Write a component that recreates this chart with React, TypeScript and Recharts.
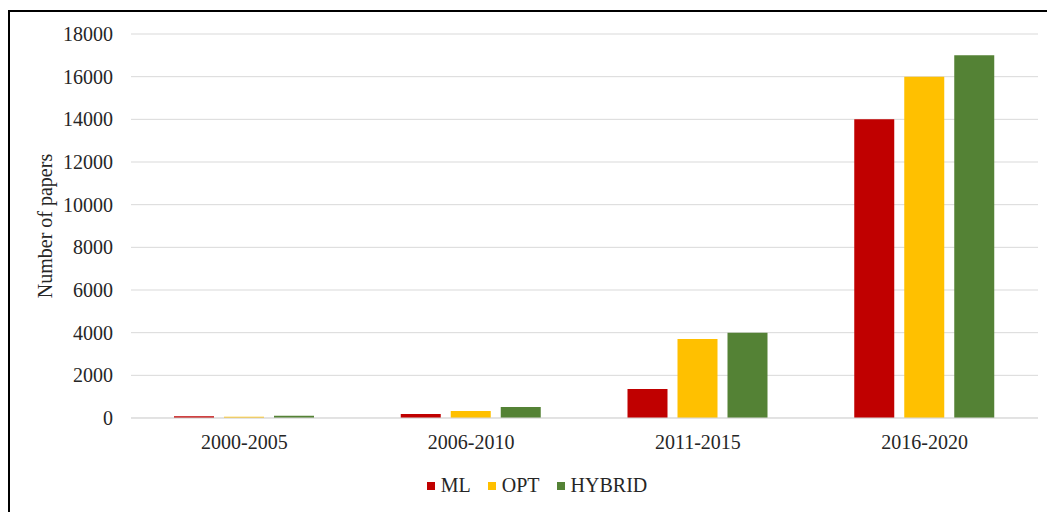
import { BarChart, Bar, XAxis, YAxis, CartesianGrid, Legend } from 'recharts';

const periods = ['2000-2005', '2006-2010', '2011-2015', '2016-2020'];
const mlPapers = [80, 190, 1360, 14000];
const optPapers = [60, 330, 3700, 16000];
const hybridPapers = [100, 520, 4000, 17000];
const yTicks = [0, 2000, 4000, 6000, 8000, 10000, 12000, 14000, 16000, 18000];

const series = [
  { key: 'ML', color: '#C00000' },
  { key: 'OPT', color: '#FFC000' },
  { key: 'HYBRID', color: '#548235' },
];

const data = periods.map((period, i) => ({
  period,
  ML: mlPapers[i],
  OPT: optPapers[i],
  HYBRID: hybridPapers[i],
}));

const font = '"Liberation Serif", "Times New Roman", serif';
const textColor = '#262626';

function LegendBox() {
  return (
    <div style={{ display: 'flex', justifyContent: 'center', alignItems: 'center', paddingLeft: 17, fontFamily: font, fontSize: 20, lineHeight: '23px', color: textColor }}>
      {series.map((s, i) => (
        <span key={s.key} style={{ display: 'flex', alignItems: 'center', marginLeft: i === 0 ? 0 : 17 }}>
          <span style={{ width: 8, height: 8, background: s.color, marginRight: 6, display: 'inline-block' }} />
          {s.key}
        </span>
      ))}
    </div>
  );
}

export default function App() {
  return (
    <div
      style={{
        position: 'fixed',
        left: 8,
        top: 10,
        width: 1039,
        height: 502,
        borderTop: '2px solid #000',
        borderLeft: '2px solid #000',
        background: '#fff',
      }}
    >
      <BarChart
        width={1037}
        height={500}
        data={data}
        margin={{ top: 22, right: 9, left: 0, bottom: 17 }}
        barCategoryGap="19%"
        barGap={10}
      >
        <CartesianGrid vertical={false} stroke="#d9d9d9" />
        <XAxis
          dataKey="period"
          axisLine={{ stroke: '#d9d9d9' }}
          tickLine={false}
          tickMargin={11}
          height={54}
          tick={{ fill: textColor, fontSize: 20, fontFamily: font }}
        />
        <YAxis
          width={121}
          domain={[0, 18000]}
          ticks={yTicks}
          axisLine={false}
          tickLine={false}
          tickMargin={12}
          tick={{ fill: textColor, fontSize: 20, fontFamily: font }}
          label={{
            value: 'Number of papers',
            angle: -90,
            position: 'insideLeft',
            dx: 30,
            style: { textAnchor: 'middle', fill: textColor, fontSize: 20, fontFamily: font },
          }}
        />
        <Legend content={<LegendBox />} wrapperStyle={{ top: 462, left: 0, width: 1037 }} />
        {series.map((s) => (
          <Bar key={s.key} dataKey={s.key} fill={s.color} barSize={40} isAnimationActive={false} />
        ))}
      </BarChart>
    </div>
  );
}
